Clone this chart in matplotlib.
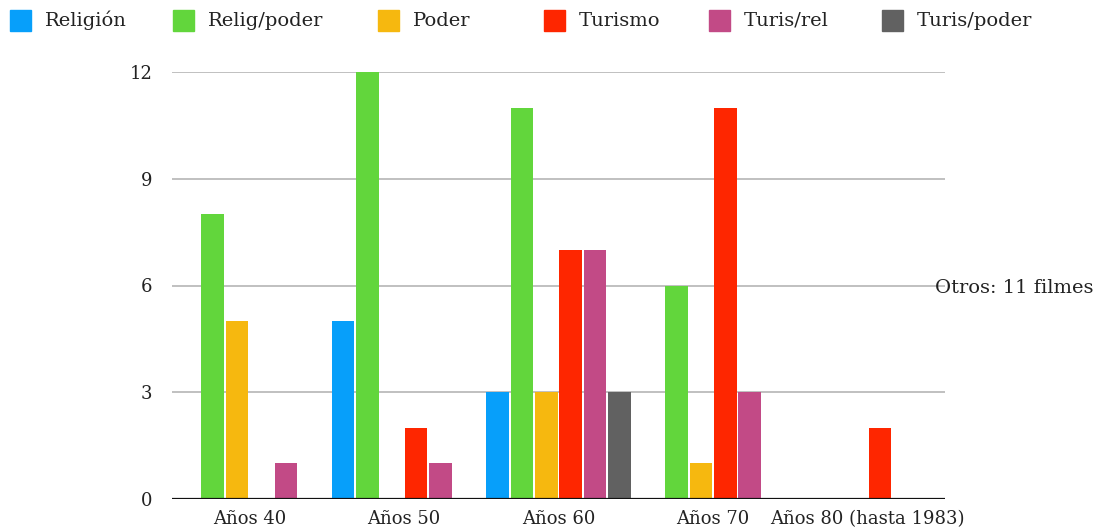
import numpy as np
import matplotlib
matplotlib.use("Agg")
import matplotlib.pyplot as plt
from matplotlib.patches import Rectangle

plt.rcParams['font.family'] = ['DejaVu Serif']

categories = ['Años 40', 'Años 50', 'Años 60', 'Años 70', 'Años 80 (hasta 1983)']
series_names = ['Religión', 'Relig/poder', 'Poder', 'Turismo', 'Turis/rel', 'Turis/poder']
religion = [0, 5, 3, 0, 0]
relig_poder = [8, 12, 11, 6, 0]
poder = [5, 0, 3, 1, 0]
turismo = [0, 2, 7, 11, 2]
turis_rel = [1, 1, 7, 3, 0]
turis_poder = [0, 0, 3, 0, 0]
y_ticks = [0, 3, 6, 9, 12]
note = 'Otros: 11 filmes'

colors = ['#079ffa', '#62d63c', '#f6b80f', '#fe2600', '#c24a86', '#616161']
series = [religion, relig_poder, poder, turismo, turis_rel, turis_poder]

W, H = 1098, 531
fig = plt.figure(figsize=(W / 100, H / 100), dpi=100)
ax = fig.add_axes([172 / W, 32 / H, 773 / W, 427 / H])

x = np.arange(len(categories))
slot = 0.158
bw = 0.146
for i, (vals, c) in enumerate(zip(series, colors)):
    ax.bar(x + (i - 2.5) * slot, vals, width=bw, color=c, zorder=3)

ax.set_xlim(-0.5, len(categories) - 0.5)
ax.set_ylim(0, 12)
ax.set_yticks(y_ticks)
ax.set_xticks(x)
ax.set_xticklabels(categories)
ax.tick_params(axis='both', length=0, labelsize=13, colors='#222222')
ax.tick_params(axis='y', pad=14)
ax.tick_params(axis='x', pad=8)
ax.grid(axis='y', color='#b5b5b5', linewidth=1.2, zorder=0)
ax.axhline(0, color='#111111', linewidth=1.6, zorder=4)
for s in ax.spines.values():
    s.set_visible(False)

# legend along the top
sq_x = [10, 173, 378, 544, 709, 882]
for sx, name, c in zip(sq_x, series_names, colors):
    fig.patches.append(Rectangle((sx / W, 1 - 31 / H), 21 / W, 21 / H,
                                 transform=fig.transFigure, color=c))
    fig.text((sx + 35) / W, 1 - 20.5 / H, name, fontsize=14, va='center',
             ha='left', color='#222222')

fig.text(935 / W, 1 - 288 / H, note, fontsize=14, va='center', ha='left',
         color='#222222')

fig.savefig('out.png', dpi=100)
